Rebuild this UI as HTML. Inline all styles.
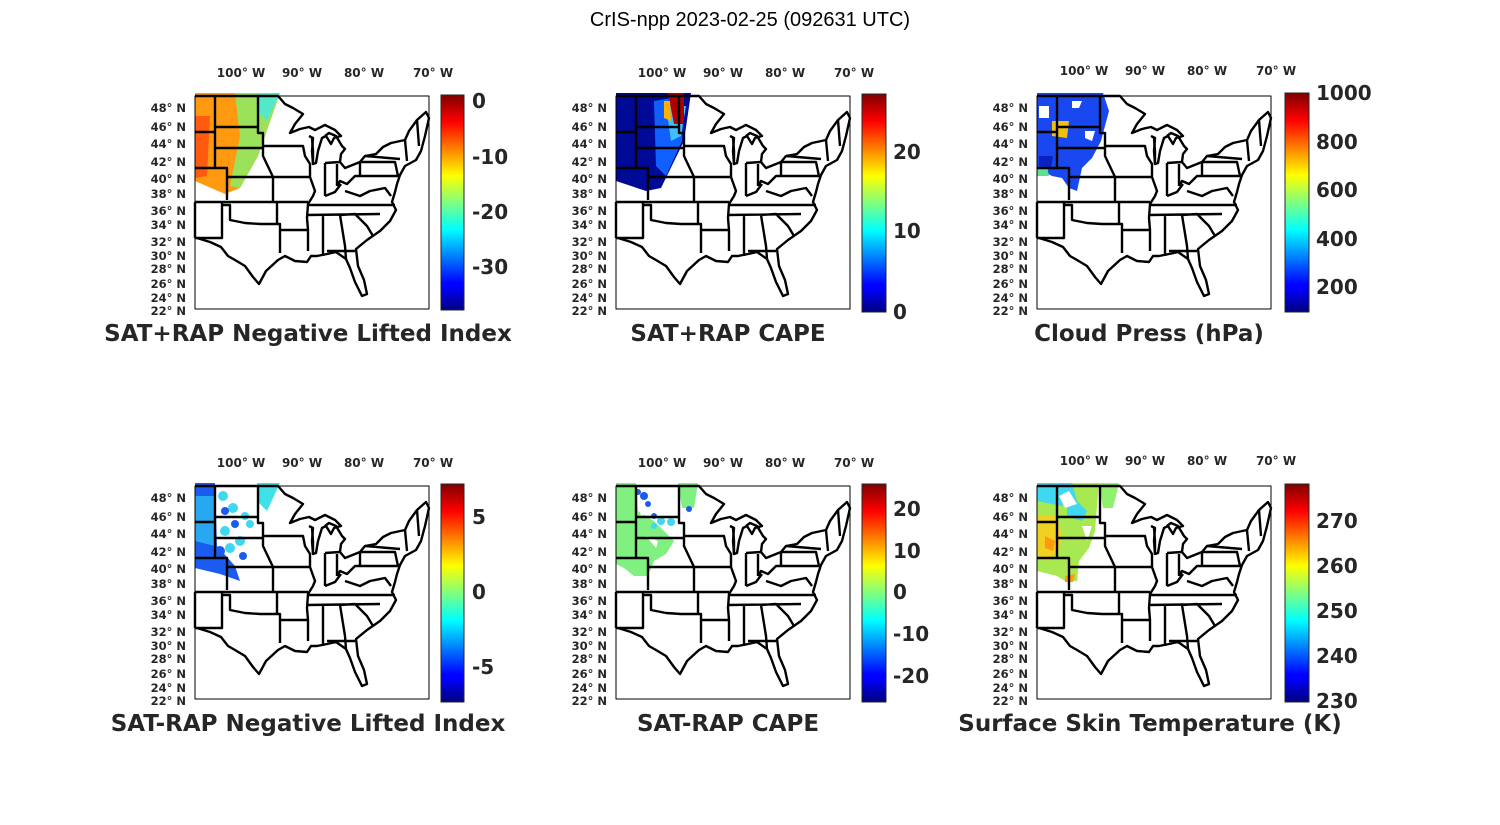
<!DOCTYPE html>
<html><head><meta charset="utf-8"><style>
html,body{margin:0;padding:0;background:#fff;}
svg{display:block;}
.t{font-family:"Liberation Sans","DejaVu Sans",sans-serif;}
.lat{font-family:"DejaVu Sans","Liberation Sans",sans-serif;font-weight:bold;font-size:11.5px;fill:#262626;text-anchor:end;}
.lon{font-family:"DejaVu Sans","Liberation Sans",sans-serif;font-weight:bold;font-size:12px;fill:#262626;text-anchor:middle;}
.cb{font-family:"DejaVu Sans","Liberation Sans",sans-serif;font-weight:bold;font-size:20px;fill:#262626;}
.ti{font-family:"DejaVu Sans","Liberation Sans",sans-serif;font-weight:bold;font-size:23px;fill:#262626;text-anchor:middle;}
</style></head><body>
<svg width="1500" height="825" viewBox="0 0 1500 825" xmlns="http://www.w3.org/2000/svg">
<defs>
<linearGradient id="jet" x1="0" y1="1" x2="0" y2="0">
<stop offset="0" stop-color="#00007f"/><stop offset="0.11" stop-color="#0000ff"/><stop offset="0.125" stop-color="#0000ff"/>
<stop offset="0.375" stop-color="#00ffff"/><stop offset="0.5" stop-color="#7fff7f"/><stop offset="0.625" stop-color="#ffff00"/>
<stop offset="0.875" stop-color="#ff0000"/><stop offset="1" stop-color="#7f0000"/>
</linearGradient>
<g id="map" fill="none" stroke="#000" stroke-width="2.4" stroke-linejoin="round">
<path d="M0,0 L83,0 L90,8 L98,12 L108,18 L100,28 L95,37 L105,33 L114,31 L120,34 L130,29 L140,34 L146,40 L139,42 L136,48 L131,40 L127,42 L123,55 L121,67 L118,68 L117,55 L118,42 L114,40 M130,40 L134,37 L141,40 L147,50 L150,53 L146,58 L145,66 L150,72 L165,66 L170,60 L181,58 L188,51 L196,47 L210,44 L214,35 L222,24 L231,16 L234,22 L230,40 L226,55 L221,64 L210,70 L205,79 L202,88 L200,96 L197,106 L201,114 L195,125 L185,135 L172,144 L161,153 L163,170 L169,184 L172,198 L167,200 L160,186 L155,172 L151,163 L141,156 L132,158 L122,160 L116,160 L112,166 L100,165 L90,160 L83,164 L71,175 L64,188 L58,181 L50,170 L40,164 L33,160 L26,151 L15,146 L2,142"/>
<path d="M20,0 L20,72 M0,36 L20,36 M0,72 L32,72 L32,104 M20,31 L63,31 M20,52 L68,52 M32,81 L78,81 M0,106 L113,106 M63,0 L63,37 L68,37 L68,52 L68,60 L78,81 L78,106 M68,50 L108,50 L110,60 L115,68 L115,81 L78,81 M115,81 L120,95 L118,100 L113,108 L112,122 L113,134 L113,155 M0,106 L0,142 M27,106 L27,142 L0,142 M27,109 L35,109 L35,124 L50,127 L65,128 L85,128 L85,157 M82,106 L82,128 M85,134 L113,134 M113,109 L200,109 M112,119 L185,118 M128,119 L128,160 M145,119 L150,150 L151,163 M132,155 L160,155 M145,119 L160,118 L172,130 L178,140 M118,68 L118,55 L117,42 M130,67 L130,100 M142,68 L142,90 M130,67 L145,66 M142,90 L145,85 L152,88 L160,80 L165,80 L165,66 M130,100 L140,96 L146,88 M150,95 L165,100 L175,95 L190,92 L196,100 M165,66 L200,66 L203,80 L165,80 M170,60 L205,63 M210,44 L212,65 M222,24 L224,50"/>
<rect x="0" y="0" width="234" height="213" stroke-width="1"/>
</g>
</defs>
<text x="750" y="26" class="t" font-size="20" text-anchor="middle" fill="#000">CrIS-npp 2023-02-25 (092631 UTC)</text>

<!-- Panel 1 -->
<g transform="translate(195,96)">
<path d="M0,-3 L85,-3 L63,60 L45,92 L30,98 L0,85 Z" fill="#ff9a10"/>
<path d="M40,-3 L85,-3 L63,60 L45,92 L35,90 L45,40 Z" fill="#9be25a"/>
<path d="M62,-3 L85,-3 L72,25 L62,15 Z" fill="#55e8c8"/>
<path d="M0,20 L15,20 L12,80 L0,82 Z" fill="#ff5a10"/>
<use href="#map"/></g>
<!-- Panel 2 -->
<g transform="translate(616,96)">
<path d="M0,-3 L75,-3 L68,45 L45,92 L30,95 L0,85 Z" fill="#000a96"/>
<path d="M38,5 L68,0 L66,45 L50,80 L40,70 Z" fill="#1060ff"/>
<path d="M50,10 L70,10 L65,40 L55,45 Z" fill="#40c0ff"/>
<path d="M52,-3 L68,-3 L68,28 L58,28 Z" fill="#b00000"/>
<path d="M48,5 L54,5 L55,25 L48,22 Z" fill="#ffb000"/>
<use href="#map"/></g>
<!-- Panel 3 -->
<g transform="translate(1037,96)">
<path d="M0,-3 L66,-3 L72,15 L64,45 L55,62 L45,72 L40,95 L32,92 L25,82 L15,80 L0,72 Z" fill="#1a48f0"/>
<path d="M15,25 L32,25 L30,42 L15,40 Z" fill="#f0c010"/>
<path d="M0,72 L10,70 L12,80 L0,80 Z" fill="#60e090"/>
<path d="M2,10 L12,10 L12,22 L2,22 Z M35,5 L45,5 L42,12 L35,12 Z M48,35 L58,35 L55,45 L48,42 Z" fill="#ffffff"/>
<path d="M2,60 L16,60 L14,72 L2,70 Z" fill="#0a20c0"/>
<use href="#map"/></g>
<!-- Panel 4 -->
<g transform="translate(195,486)">
<path d="M0,-3 L20,-3 L22,60 L40,80 L45,95 L25,88 L0,82 Z" fill="#1a5cf0"/>
<path d="M0,10 L20,10 L20,60 L0,55 Z" fill="#28a8f0"/>
<g fill="#40d8f0"><circle cx="28" cy="10" r="5"/><circle cx="38" cy="22" r="5"/><circle cx="50" cy="30" r="4"/><circle cx="30" cy="45" r="5"/><circle cx="45" cy="55" r="5"/><circle cx="55" cy="38" r="4"/><circle cx="35" cy="62" r="5"/></g>
<g fill="#1a5cf0"><circle cx="30" cy="25" r="4"/><circle cx="40" cy="38" r="4"/><circle cx="25" cy="65" r="5"/><circle cx="48" cy="70" r="4"/></g>
<path d="M62,-3 L85,-3 L72,25 L62,15 Z" fill="#40e0e8"/>
<use href="#map"/></g>
<!-- Panel 5 -->
<g transform="translate(616,486)">
<path d="M0,-3 L20,-3 L22,25 L38,35 L48,45 L58,55 L50,68 L38,75 L32,90 L18,90 L8,82 L0,78 Z" fill="#80f080"/>
<path d="M22,18 L32,10 L38,25 L25,30 Z M30,50 L42,55 L40,62 Z" fill="#ffffff"/>
<path d="M62,-3 L82,-3 L78,22 L66,22 Z" fill="#80f080"/>
<g fill="#1a5cf0"><circle cx="28" cy="10" r="4"/><circle cx="22" cy="6" r="3"/><circle cx="32" cy="18" r="3"/><circle cx="38" cy="30" r="3"/><circle cx="73" cy="23" r="3"/></g>
<g fill="#40d8f0"><circle cx="45" cy="35" r="4"/><circle cx="55" cy="36" r="4"/><circle cx="38" cy="40" r="3"/></g>
<use href="#map"/></g>
<!-- Panel 6 -->
<g transform="translate(1037,486)">
<path d="M0,-3 L62,-3 L60,20 L58,45 L52,62 L42,75 L40,95 L28,95 L20,90 L0,85 Z" fill="#a8e850"/>
<path d="M0,-3 L35,-3 L40,15 L25,20 L0,15 Z" fill="#40d8f0"/>
<path d="M30,18 L40,15 L50,25 L45,35 L30,30 Z" fill="#40d8f0"/>
<path d="M0,30 L20,30 L25,50 L22,65 L10,75 L0,70 Z" fill="#f0d020"/>
<path d="M8,50 L18,55 L16,65 L8,62 Z M28,90 L38,88 L36,96 L28,96 Z" fill="#ff9a10"/>
<path d="M22,10 L32,5 L40,18 L28,22 Z M45,40 L55,40 L50,55 Z" fill="#ffffff"/>
<path d="M62,-3 L82,-3 L76,22 L66,22 Z" fill="#90f070"/>
<use href="#map"/></g>

<!-- colorbars -->
<rect x="441" y="95" width="23" height="215" fill="url(#jet)" stroke="#262626" stroke-width="1"/>
<rect x="862" y="94" width="24" height="218" fill="url(#jet)" stroke="#262626" stroke-width="1"/>
<rect x="1285" y="93" width="24" height="219" fill="url(#jet)" stroke="#262626" stroke-width="1"/>
<rect x="441" y="484" width="23" height="218" fill="url(#jet)" stroke="#262626" stroke-width="1"/>
<rect x="862" y="484" width="24" height="218" fill="url(#jet)" stroke="#262626" stroke-width="1"/>
<rect x="1285" y="484" width="24" height="218" fill="url(#jet)" stroke="#262626" stroke-width="1"/>

<g class="cb">
<text x="472" y="108">0</text><text x="472" y="164">-10</text><text x="472" y="219">-20</text><text x="472" y="274">-30</text>
<text x="893" y="159">20</text><text x="893" y="238">10</text><text x="893" y="319">0</text>
<text x="1316" y="100">1000</text><text x="1316" y="149">800</text><text x="1316" y="197">600</text><text x="1316" y="246">400</text><text x="1316" y="294">200</text>
<text x="472" y="524">5</text><text x="472" y="599">0</text><text x="472" y="674">-5</text>
<text x="893" y="516">20</text><text x="893" y="558">10</text><text x="893" y="599">0</text><text x="893" y="641">-10</text><text x="893" y="683">-20</text>
<text x="1316" y="528">270</text><text x="1316" y="573">260</text><text x="1316" y="618">250</text><text x="1316" y="663">240</text><text x="1316" y="708">230</text>
</g>

<!-- titles -->
<text class="ti" x="308" y="341">SAT+RAP Negative Lifted Index</text>
<text class="ti" x="728" y="341">SAT+RAP CAPE</text>
<text class="ti" x="1149" y="341">Cloud Press (hPa)</text>
<text class="ti" x="308" y="731">SAT-RAP Negative Lifted Index</text>
<text class="ti" x="728" y="731">SAT-RAP CAPE</text>
<text class="ti" x="1150" y="731">Surface Skin Temperature (K)</text>

<!-- lon labels -->
<g class="lon">
<text x="241" y="77">100°  W</text><text x="302" y="77">90°  W</text><text x="364" y="77">80°  W</text><text x="433" y="77">70°  W</text>
<text x="662" y="77">100°  W</text><text x="723" y="77">90°  W</text><text x="785" y="77">80°  W</text><text x="854" y="77">70°  W</text>
<text x="1084" y="75">100°  W</text><text x="1145" y="75">90°  W</text><text x="1207" y="75">80°  W</text><text x="1276" y="75">70°  W</text>
<text x="241" y="467">100°  W</text><text x="302" y="467">90°  W</text><text x="364" y="467">80°  W</text><text x="433" y="467">70°  W</text>
<text x="662" y="467">100°  W</text><text x="723" y="467">90°  W</text><text x="785" y="467">80°  W</text><text x="854" y="467">70°  W</text>
<text x="1084" y="465">100°  W</text><text x="1145" y="465">90°  W</text><text x="1207" y="465">80°  W</text><text x="1276" y="465">70°  W</text>
</g>

<!-- lat labels -->
<g class="lat" transform="translate(186,0)">
<text y="112">48°  N</text><text y="131">46°  N</text><text y="148">44°  N</text><text y="166">42°  N</text><text y="183">40°  N</text><text y="198">38°  N</text><text y="215">36°  N</text><text y="229">34°  N</text><text y="246">32°  N</text><text y="260">30°  N</text><text y="273">28°  N</text><text y="288">26°  N</text><text y="302">24°  N</text><text y="315">22°  N</text>
</g>
<g class="lat" transform="translate(607,0)">
<text y="112">48°  N</text><text y="131">46°  N</text><text y="148">44°  N</text><text y="166">42°  N</text><text y="183">40°  N</text><text y="198">38°  N</text><text y="215">36°  N</text><text y="229">34°  N</text><text y="246">32°  N</text><text y="260">30°  N</text><text y="273">28°  N</text><text y="288">26°  N</text><text y="302">24°  N</text><text y="315">22°  N</text>
</g>
<g class="lat" transform="translate(1028,0)">
<text y="112">48°  N</text><text y="131">46°  N</text><text y="148">44°  N</text><text y="166">42°  N</text><text y="183">40°  N</text><text y="198">38°  N</text><text y="215">36°  N</text><text y="229">34°  N</text><text y="246">32°  N</text><text y="260">30°  N</text><text y="273">28°  N</text><text y="288">26°  N</text><text y="302">24°  N</text><text y="315">22°  N</text>
</g>
<g class="lat" transform="translate(186,390)">
<text y="112">48°  N</text><text y="131">46°  N</text><text y="148">44°  N</text><text y="166">42°  N</text><text y="183">40°  N</text><text y="198">38°  N</text><text y="215">36°  N</text><text y="229">34°  N</text><text y="246">32°  N</text><text y="260">30°  N</text><text y="273">28°  N</text><text y="288">26°  N</text><text y="302">24°  N</text><text y="315">22°  N</text>
</g>
<g class="lat" transform="translate(607,390)">
<text y="112">48°  N</text><text y="131">46°  N</text><text y="148">44°  N</text><text y="166">42°  N</text><text y="183">40°  N</text><text y="198">38°  N</text><text y="215">36°  N</text><text y="229">34°  N</text><text y="246">32°  N</text><text y="260">30°  N</text><text y="273">28°  N</text><text y="288">26°  N</text><text y="302">24°  N</text><text y="315">22°  N</text>
</g>
<g class="lat" transform="translate(1028,390)">
<text y="112">48°  N</text><text y="131">46°  N</text><text y="148">44°  N</text><text y="166">42°  N</text><text y="183">40°  N</text><text y="198">38°  N</text><text y="215">36°  N</text><text y="229">34°  N</text><text y="246">32°  N</text><text y="260">30°  N</text><text y="273">28°  N</text><text y="288">26°  N</text><text y="302">24°  N</text><text y="315">22°  N</text>
</g>
</svg>
</body></html>
